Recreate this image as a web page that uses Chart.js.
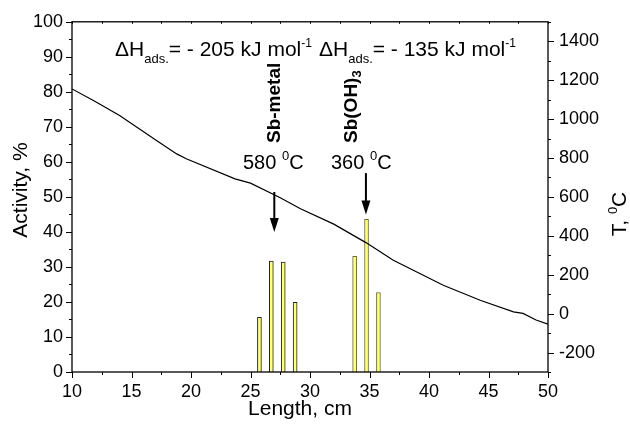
<!DOCTYPE html>
<html>
<head>
<meta charset="utf-8">
<script src="https://cdn.jsdelivr.net/npm/chart.js@4.4.1/dist/chart.umd.min.js"></script>
<style>
html,body{margin:0;padding:0;background:#fff;}
#wrap{width:630px;height:430px;}
</style>
</head>
<body>
<div id="wrap"><canvas id="c" width="630" height="430"></canvas></div>
<script>
// ---- data ----
const xTicks = [10, 15, 20, 25, 30, 35, 40, 45, 50];
const yTicks = [0, 10, 20, 30, 40, 50, 60, 70, 80, 90, 100];
const tTicks = [-200, 0, 200, 400, 600, 800, 1000, 1200, 1400];

// Activity bars (Length, cm -> Activity, %)
const barLength   = [25.75, 26.75, 27.75, 28.75, 33.75, 34.75, 35.75];
const barActivity = [15.6, 31.7, 31.4, 19.9, 33.0, 43.6, 22.7];

// Temperature profile (Length, cm -> T, °C)
const tempLength = [10, 11.8, 14, 17.1, 18.8, 19.6, 23.7, 25.0, 27.5, 29.2, 32.0, 34.7, 37.0, 41.2, 44.3, 47.1, 47.9, 49.0, 50];
const tempValue  = [1155, 1095, 1018, 890, 821, 796, 693, 671, 596, 539, 460, 365, 274, 146, 69, 9, 1, -33, -54];

const FONT = '"Liberation Sans", Arial, Helvetica, sans-serif';
Chart.defaults.font.family = FONT;
Chart.defaults.font.size = 18;
Chart.defaults.color = '#000';

function richWidth(ctx, parts) {
  let w = 0;
  for (const p of parts) {
    ctx.font = (p.bold ? 'bold ' : '') + p.size + 'px ' + FONT;
    w += ctx.measureText(p.t).width;
  }
  return w;
}
function drawRich(ctx, x, y, parts, align) {
  ctx.textBaseline = 'alphabetic';
  ctx.textAlign = 'left';
  let cx = x;
  if (align === 'center') cx = x - richWidth(ctx, parts) / 2;
  for (const p of parts) {
    ctx.font = (p.bold ? 'bold ' : '') + p.size + 'px ' + FONT;
    ctx.fillText(p.t, cx, y + (p.dy || 0));
    cx += ctx.measureText(p.t).width;
  }
}
function drawRotated(ctx, x, y, parts, align) {
  ctx.save();
  ctx.translate(x, y);
  ctx.rotate(-Math.PI / 2);
  drawRich(ctx, 0, 0, parts, align);
  ctx.restore();
}
function arrow(ctx, x, y0, y1) {
  ctx.save();
  ctx.strokeStyle = '#000';
  ctx.fillStyle = '#000';
  ctx.lineWidth = 2;
  ctx.beginPath();
  ctx.moveTo(x, y0);
  ctx.lineTo(x, y1 - 10);
  ctx.stroke();
  ctx.beginPath();
  ctx.moveTo(x - 4.5, y1 - 14);
  ctx.lineTo(x + 4.5, y1 - 14);
  ctx.lineTo(x, y1);
  ctx.closePath();
  ctx.fill();
  ctx.restore();
}

const framePlugin = {
  id: 'frame',
  afterDraw(chart) {
    const ctx = chart.ctx;
    const a = chart.chartArea;
    const xs = chart.scales.x, ys = chart.scales.y, ts = chart.scales.y1;
    ctx.save();
    ctx.strokeStyle = '#000';
    ctx.lineWidth = 1.3;
    ctx.strokeRect(a.left, a.top, a.right - a.left, a.bottom - a.top);
    ctx.beginPath();
    for (let v = 0; v <= 100; v += 5) {
      const y = Math.round(ys.getPixelForValue(v)) + 0.5;
      const len = (v % 10 === 0) ? 6 : 3;
      ctx.moveTo(a.left, y); ctx.lineTo(a.left - len, y);
    }
    for (let v = -300; v <= 1500; v += 100) {
      const y = Math.round(ts.getPixelForValue(v)) + 0.5;
      const len = (v % 200 === 0) ? 6 : 3;
      ctx.moveTo(a.right, y); ctx.lineTo(a.right + len, y);
    }
    for (let v = 10; v <= 50; v += 2.5) {
      const x = Math.round(xs.getPixelForValue(v)) + 0.5;
      const len = (v % 5 === 0) ? 6 : 3;
      ctx.moveTo(x, a.bottom); ctx.lineTo(x, a.bottom + len);
      ctx.moveTo(x, a.top); ctx.lineTo(x, a.top + 2);
    }
    ctx.lineWidth = 1;
    ctx.stroke();
    ctx.restore();

    ctx.save();
    ctx.fillStyle = '#000';
    drawRotated(ctx, 27, 190, [{t: 'Activity, %', size: 21}], 'center');
    drawRotated(ctx, 626, 214, [{t: 'T, ', size: 21}, {t: '0', size: 13, dy: -9}, {t: 'C', size: 21}], 'center');
    drawRich(ctx, 300, 415, [{t: 'Length, cm', size: 21}], 'center');

    drawRich(ctx, 115, 56, [
      {t: '\u0394H', size: 21}, {t: 'ads.', size: 13, dy: 7},
      {t: '= - 205 kJ mol', size: 21}, {t: '-1', size: 12, dy: -9}
    ]);
    drawRich(ctx, 319, 56, [
      {t: '\u0394H', size: 21}, {t: 'ads.', size: 13, dy: 7},
      {t: '= - 135 kJ mol', size: 21}, {t: '-1', size: 12, dy: -9}
    ]);
    drawRotated(ctx, 280, 143, [{t: 'Sb-metal', size: 19, bold: true}]);
    drawRotated(ctx, 357, 143, [{t: 'Sb(OH)', size: 19, bold: true}, {t: '3', size: 13, bold: true, dy: 4}]);
    drawRich(ctx, 243, 169, [{t: '580 ', size: 20}, {t: '0', size: 13, dy: -9}, {t: 'C', size: 20}]);
    drawRich(ctx, 331, 169, [{t: '360 ', size: 20}, {t: '0', size: 13, dy: -9}, {t: 'C', size: 20}]);
    ctx.restore();

    arrow(ctx, xs.getPixelForValue(27), ys.getPixelForValue(51.4), ys.getPixelForValue(40));
    arrow(ctx, xs.getPixelForValue(34.7), ys.getPixelForValue(56.8), ys.getPixelForValue(45));
  }
};

const ctx = document.getElementById('c').getContext('2d');
new Chart(ctx, {
  type: 'bar',
  data: {
    datasets: [
      {
        type: 'line',
        label: 'T',
        data: tempLength.map((x, i) => ({x: x, y: tempValue[i]})),
        yAxisID: 'y1',
        borderColor: '#000',
        borderWidth: 1.2,
        pointRadius: 0,
        tension: 0,
        fill: false,
        order: 0
      },
      {
        type: 'bar',
        label: 'Activity',
        data: barLength.map((x, i) => ({x: x, y: barActivity[i]})),
        yAxisID: 'y',
        backgroundColor: '#ffff80',
        borderColor: ['#222', '#222', '#222', '#222', '#6b6b30', '#6b6b30', '#6b6b30'],
        borderWidth: 1,
        borderSkipped: 'bottom',
        barThickness: 4,
        grouped: false,
        order: 1
      }
    ]
  },
  options: {
    responsive: false,
    animation: false,
    events: [],
    layout: {padding: {top: 21, left: 0, right: 0, bottom: 0}},
    plugins: {legend: {display: false}, tooltip: {enabled: false}},
    scales: {
      x: {
        type: 'linear', min: 10, max: 50, offset: false,
        afterBuildTicks: s => { s.ticks = xTicks.map(v => ({value: v})); },
        afterFit: s => { s.height = 58; },
        grid: {display: false, drawTicks: false, offset: false},
        border: {display: false},
        ticks: {padding: 9, maxRotation: 0, autoSkip: false, callback: v => String(v)}
      },
      y: {
        type: 'linear', position: 'left', min: 0, max: 100,
        afterBuildTicks: s => { s.ticks = yTicks.map(v => ({value: v})); },
        afterFit: s => { s.width = 72; },
        grid: {display: false, drawTicks: false},
        border: {display: false},
        ticks: {padding: 9, autoSkip: false, callback: v => String(v)}
      },
      y1: {
        type: 'linear', position: 'right', min: -300, max: 1500,
        afterBuildTicks: s => { s.ticks = tTicks.map(v => ({value: v})); },
        afterFit: s => { s.width = 82; },
        grid: {display: false, drawTicks: false},
        border: {display: false},
        ticks: {padding: 11, autoSkip: false, callback: v => String(v)}
      }
    }
  },
  plugins: [framePlugin]
});
</script>
</body>
</html>
